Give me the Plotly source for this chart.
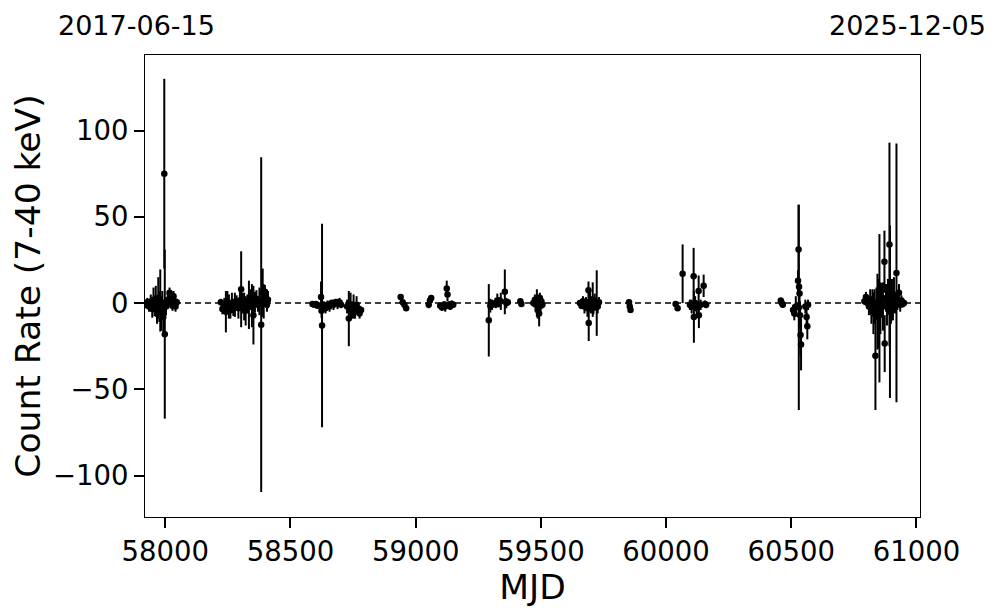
import plotly.graph_objects as go

# ---- data (MJD, count rate, 1-sigma error) ----
mjd = [
    57922, 57928, 57935, 57942, 57948, 57953, 57957, 57962, 57967, 57972, 57976, 57980, 57984, 57988, 57992,
    57996, 57998, 58003, 58010, 58017, 58021, 58025, 58029, 58033, 58037, 58041, 58046,
    58222, 58228, 58236, 58242, 58248, 58254, 58260, 58266, 58272, 58278, 58285, 58292, 58298, 58303, 58309,
    58315, 58321, 58328, 58334, 58340, 58346, 58352, 58358, 58364, 58370, 58376, 58383, 58389, 58393, 58398,
    58402, 58406, 58410,
    58588, 58595, 58602, 58608, 58622, 58624, 58626, 58632, 58640, 58648, 58656, 58664, 58672, 58680, 58688,
    58696, 58702,
    58726, 58733, 58740, 58746, 58752, 58758, 58764, 58770, 58776, 58782,
    58940, 58948, 58955, 58962,
    59052, 59057, 59062, 59098, 59105, 59112, 59118, 59124, 59127, 59132, 59138, 59144, 59150,
    59292, 59298, 59305, 59312, 59320, 59326, 59333, 59340, 59356, 59362, 59368,
    59418, 59422,
    59470, 59476, 59480, 59484, 59487, 59490, 59493, 59496, 59499, 59502, 59506,
    59656, 59662, 59668, 59674, 59680, 59686, 59690, 59691, 59696, 59700, 59707, 59710, 59715, 59723, 59727,
    59732,
    59852, 59855, 59858,
    60038, 60046, 60066, 60095, 60102, 60110, 60111, 60116, 60122, 60130, 60131, 60138, 60150, 60155, 60160,
    60458, 60462, 60466,
    60507, 60512, 60518, 60529, 60530, 60527, 60531, 60533, 60535, 60537, 60539, 60556, 60561, 60564, 60567,
    60792, 60798, 60804, 60810, 60815, 60820, 60824, 60828, 60832, 60836, 60840, 60844, 60846, 60850, 60852,
    60856, 60862, 60866, 60872, 60873, 60878, 60882, 60886, 60892, 60894, 60898, 60902, 60906, 60910, 60914,
    60920, 60924, 60930, 60935, 60940, 60945, 60950,
]
rate = [
    -1.0, 0.5, -2.0, 1.0, -3.5, 2.0, -1.5, 1.0, -4.0, 3.0, -2.0, 1.5, -6.0, 0.0, -8.0,
    75.0, -18.0, -2.0, 2.0, 6.0, 0.0, 3.0, -1.5, 4.0, 1.0, -2.0, 0.5,
    0.5, -3.5, -1.0, -5.0, 1.0, -2.0, -4.0, 0.0, -2.5, -1.0, 0.5, -3.0, 1.5, 8.0, 0.0,
    -2.0, -4.5, 1.0, -1.0, 2.0, -1.5, -7.0, 0.5, 2.5, -1.0, 1.0, -12.5, 6.0, 1.0, 6.5,
    3.5, -1.0, 2.0,
    -0.5, -1.0, -0.5, -1.5, 3.5, -4.5, -13.0, -1.0, -3.0, -1.0, -2.0, 0.0, -1.0, 0.5, -0.5,
    0.5, -1.0,
    -2.0, -9.0, -1.0, -4.0, -2.0, -5.0, -1.0, -3.0, -6.0, -4.0,
    3.5, 0.5, -1.0, -3.0,
    -1.0, 1.5, 3.0, -1.5, -2.5, -1.0, -2.0, 8.5, 5.0, -1.0, -2.0, -0.5, -1.0,
    -10.0, -1.5, -1.0, -0.5, 0.0, 1.5, 0.5, 1.0, 6.5, 0.0, 0.5,
    1.0, -0.5,
    0.0, 2.0, -1.0, 0.0, -4.0, 1.0, -6.0, 3.0, -1.5, 1.0, -1.0,
    0.0, -1.5, 1.0, -2.0, 0.5, -3.0, 7.5, -11.5, 1.0, -1.0, 2.0, -2.5, 0.5, 0.0, -2.0,
    0.5,
    0.5, -2.0, -4.0,
    -0.5, -3.0, 17.0, -1.0, -2.0, 15.5, -8.0, 0.0, -3.0, 7.0, -7.0, -1.0, 10.0, -0.5, -1.0,
    1.5, 0.0, -1.0,
    -4.0, -6.0, -2.0, 31.0, -2.5, 13.0, 9.5, 5.5, -7.0, -18.5, -24.0, -2.0, -8.0, -13.5, -1.0,
    1.0, 3.5, 0.0, -2.0, 2.0, -4.0, 1.0, -6.0, -2.0, -30.5, 0.0, -5.0, -8.0, 2.0, -3.0,
    -3.0, 1.5, -2.0, 24.0, -23.5, 3.0, -1.0, 4.0, 34.0, -5.0, -3.0, 2.0, -2.0, 5.0, 0.0,
    17.5, 1.0, 6.0, -1.0, 1.5, -0.5, 0.0,
]
err = [
    2.0, 2.5, 3.0, 4.0, 5.0, 7.0, 6.0, 9.0, 8.0, 12.0, 9.0, 18.0, 10.0, 7.0, 9.0,
    55.0, 49.0, 5.0, 4.0, 3.0, 3.0, 4.0, 3.0, 3.0, 2.5, 3.0, 2.0,
    2.0, 3.0, 4.0, 12.0, 6.0, 7.0, 5.0, 6.0, 5.0, 7.0, 4.0, 6.0, 5.0, 22.0, 6.0,
    8.0, 8.5, 4.0, 14.0, 6.0, 12.5, 17.0, 6.0, 5.0, 4.0, 8.0, 97.0, 14.0, 10.0, 4.0,
    4.0, 4.0, 5.0,
    1.0, 1.0, 1.5, 1.5, 9.0, 4.0, 59.0, 2.0, 3.0, 2.5, 3.0, 2.0, 3.0, 2.0, 3.0,
    2.5, 2.0,
    4.0, 16.0, 7.0, 5.0, 7.0, 4.0, 5.0, 3.0, 3.0, 2.0,
    1.5, 1.5, 2.0, 1.5,
    2.0, 2.0, 1.5, 1.5, 2.0, 2.0, 3.0, 4.5, 4.0, 2.0, 2.0, 2.0, 1.5,
    21.0, 4.0, 3.0, 2.0, 3.0, 4.0, 3.0, 5.0, 13.0, 3.0, 2.0,
    1.5, 1.5,
    2.0, 3.0, 3.0, 8.0, 5.0, 4.0, 7.5, 3.0, 3.0, 2.0, 2.0,
    1.5, 2.0, 3.0, 4.0, 3.0, 5.0, 5.0, 10.5, 6.0, 5.0, 10.0, 4.0, 5.0, 19.0, 4.0,
    3.0,
    1.5, 1.5, 1.5,
    1.5, 1.5, 17.0, 3.0, 4.0, 16.5, 15.0, 4.0, 4.0, 9.0, 7.5, 3.0, 6.5, 2.0, 2.0,
    1.5, 1.5, 1.5,
    3.0, 4.0, 6.0, 26.0, 59.5, 6.0, 5.0, 6.0, 8.0, 12.0, 15.0, 4.0, 6.0, 7.5, 3.0,
    2.0, 3.0, 3.0, 5.0, 6.0, 8.0, 7.0, 12.0, 10.0, 31.5, 9.0, 22.0, 18.0, 12.0, 43.0,
    15.0, 10.0, 14.0, 18.0, 16.5, 8.0, 12.0, 10.0, 59.0, 50.0, 9.0, 12.0, 8.0, 10.0, 6.0,
    75.0, 5.0, 5.0, 4.0, 3.0, 2.0, 2.0,
]

x_range = [57919, 61014]
y_range = [-124, 143.8]
x_ticks = [58000, 58500, 59000, 59500, 60000, 60500, 61000]
y_ticks = [-100, -50, 0, 50, 100]
start_label = "2017-06-15"
end_label = "2025-12-05"

FONT = "DejaVu Sans"

fig = go.Figure()
fig.add_trace(go.Scatter(
    x=mjd, y=rate, mode="markers",
    marker=dict(color="black", size=6.5),
    error_y=dict(type="data", array=err, visible=True, color="black", thickness=2, width=0),
    showlegend=False,
))

fig.add_shape(type="line", xref="paper", yref="y", x0=0, x1=1, y0=0, y1=0,
              line=dict(color="black", width=1.5, dash="6px,4px"), layer="above")

axis_common = dict(showline=True, linecolor="black", linewidth=1, mirror=True,
                   ticks="outside", ticklen=10, tickwidth=2, tickcolor="black",
                   showgrid=False, zeroline=False,
                   tickfont=dict(family=FONT, size=27.5, color="black"))

fig.update_xaxes(range=x_range, tickvals=x_ticks, ticktext=[str(v) for v in x_ticks],
                 title=dict(text="MJD", font=dict(family=FONT, size=34.5, color="black"), standoff=6),
                 **axis_common)
fig.update_yaxes(range=y_range, tickvals=y_ticks,
                 title=dict(text="Count Rate (7-40 keV)", font=dict(family=FONT, size=34.5, color="black"), standoff=10),
                 **axis_common)

fig.add_annotation(text=start_label, xref="paper", yref="paper", x=-0.0115, y=1.0645,
                   xanchor="center", yanchor="middle", showarrow=False, borderpad=0,
                   font=dict(family=FONT, size=27, color="black"))
fig.add_annotation(text=end_label, xref="paper", yref="paper", x=1.0865, y=1.0645,
                   xanchor="right", yanchor="middle", showarrow=False, borderpad=0,
                   font=dict(family=FONT, size=27, color="black"))

# the page body has an 8 px margin, so the figure is sized to fit inside 997x613
fig.update_layout(
    width=989, height=605,
    margin=dict(l=137, r=77, t=47, b=96, autoexpand=False),
    paper_bgcolor="white", plot_bgcolor="white",
    font=dict(family=FONT, color="black"),
)

fig.write_html("out.html")
